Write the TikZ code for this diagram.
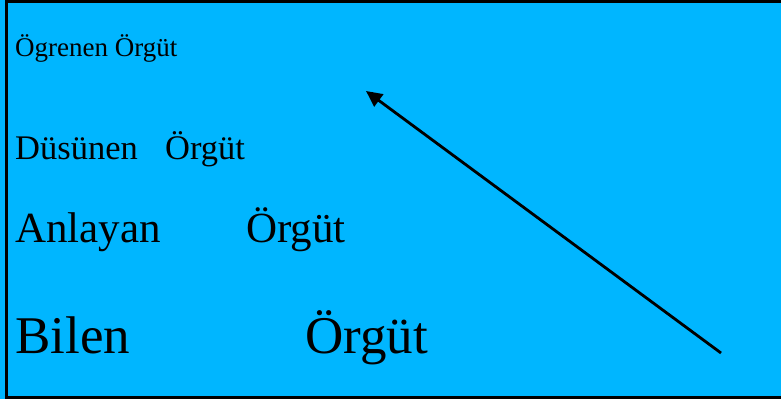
\documentclass[tikz,border=0pt]{standalone}
\usepackage{fontspec}
\setmainfont{Liberation Serif}
\usetikzlibrary{arrows.meta}
\definecolor{skyfill}{RGB}{0,182,255}

\begin{document}
\begin{tikzpicture}[x=1pt, y=1pt,
      word/.style={anchor=base west, inner sep=0pt, text=black},
      lvl/.style={word, font=\fontsize{#1}{#1}\selectfont}]
      % Background and frame
      \fill[skyfill] (0,0) rectangle (781,399);
      \useasboundingbox (0,0) rectangle (781,399);
      \draw[line width=3pt] (781,397.5) -- (6.5,397.5) -- (6.5,1.5) -- (781,1.5);

      % Levels (top to bottom)
      \node[lvl=27] (ogr)  at (15,342) {Ögrenen Örgüt};
      \node[lvl=34.5] (dus)  at (15,239) {Düsünen};
      \node[lvl=34.5] (dusO) at (165,239) {Örgüt};
      \node[lvl=43] (anl)  at (15,156) {Anlayan};
      \node[lvl=43] (anlO) at (246,156) {Örgüt};
      \node[lvl=53] (bil)  at (15,46) {Bilen};
      \node[lvl=53] (bilO) at (305,46) {Örgüt};

      % Rising arrow
      \coordinate (tail) at (721,46);
      \coordinate (tip)  at (366,308);
      \draw[line width=2.8pt, -{Triangle[length=16pt,width=15pt]}] (tail) -- (tip);
    \end{tikzpicture}
\end{document}
